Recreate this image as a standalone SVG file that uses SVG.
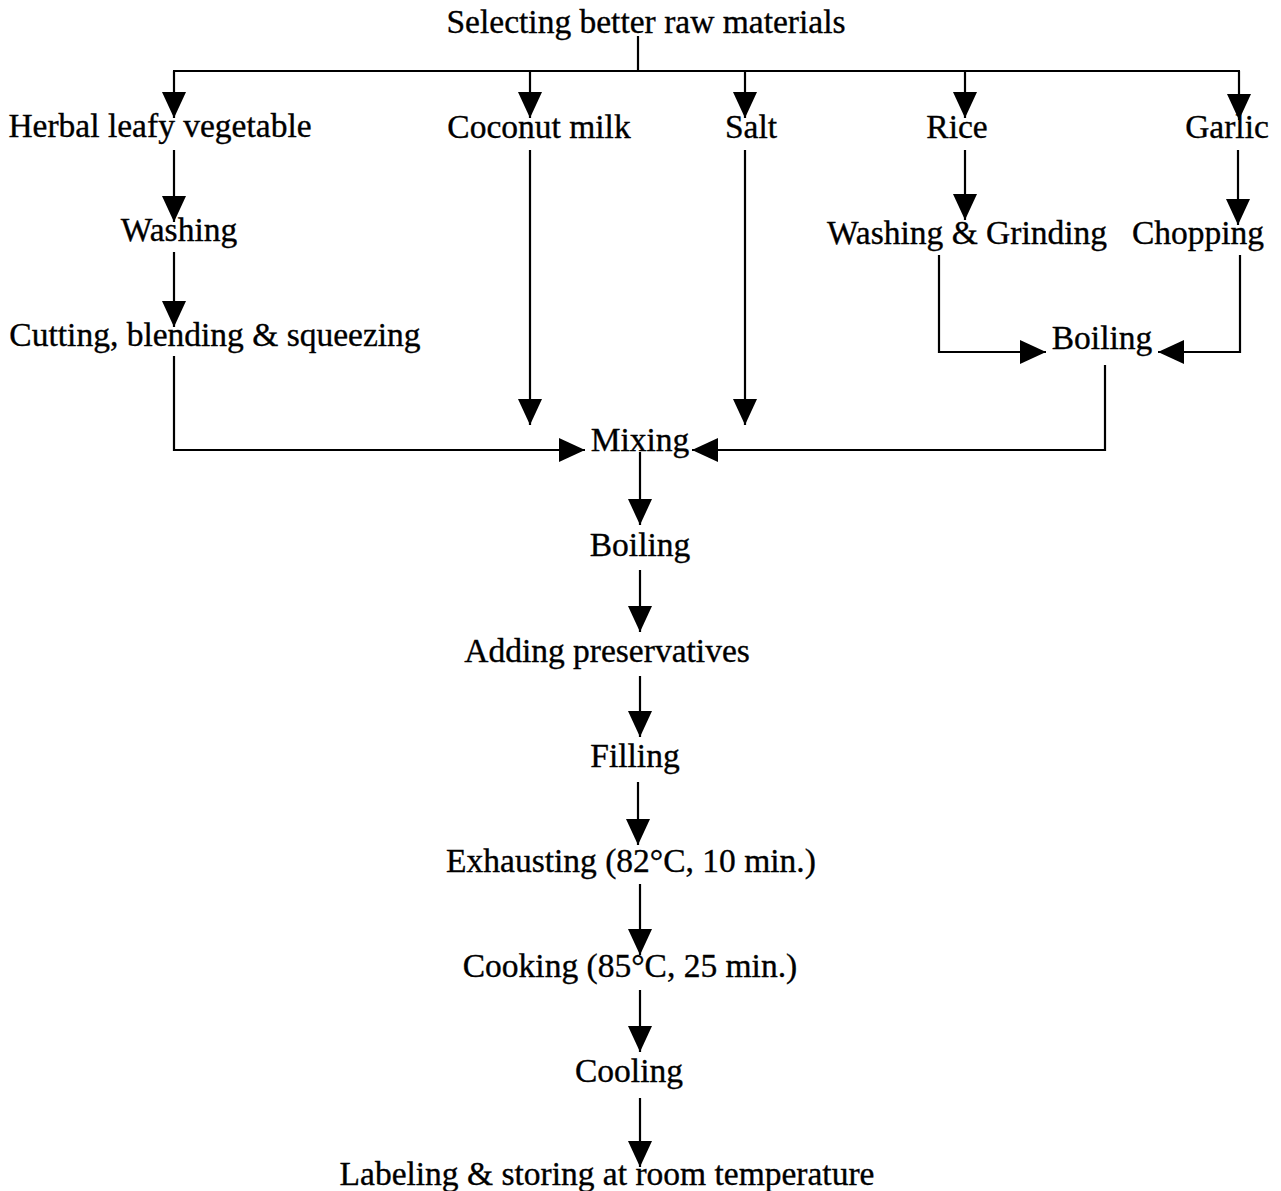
<svg xmlns="http://www.w3.org/2000/svg" width="1281" height="1191" viewBox="0 0 1281 1191">
<defs>
<style>
text{font-family:"Liberation Serif","Times New Roman",serif;font-size:33.5px;fill:#000;stroke:#000;stroke-width:0.35;text-anchor:middle}
.c line,.c polyline{stroke:#000;stroke-width:2.2;fill:none}
.a{marker-end:url(#ah)}
</style>
<marker id="ah" viewBox="0 0 26 24" refX="26" refY="12" markerWidth="26" markerHeight="24" markerUnits="userSpaceOnUse" orient="auto">
<path d="M0,0 L26,12 L0,24 z" fill="#000"/>
</marker>
</defs>
<rect width="1281" height="1191" fill="#fff"/>
<g class="c" id="connectors">
<line x1="638" y1="36" x2="638" y2="71"/>
<line x1="173" y1="71" x2="1240" y2="71"/>
<line class="a" x1="174" y1="71" x2="174" y2="118"/>
<line class="a" x1="530" y1="71" x2="530" y2="118"/>
<line class="a" x1="745" y1="71" x2="745" y2="118"/>
<line class="a" x1="965" y1="71" x2="965" y2="118"/>
<line class="a" x1="1239" y1="71" x2="1239" y2="120"/>
<line class="a" x1="174" y1="150" x2="174" y2="222"/>
<line class="a" x1="174" y1="252" x2="174" y2="327"/>
<polyline class="a" points="174,356 174,450 585,450"/>
<line class="a" x1="530" y1="150" x2="530" y2="425"/>
<line class="a" x1="745" y1="150" x2="745" y2="425"/>
<line class="a" x1="965" y1="150" x2="965" y2="220"/>
<line class="a" x1="1238" y1="150" x2="1238" y2="225"/>
<polyline class="a" points="939,255 939,352 1046,352"/>
<polyline class="a" points="1240,255 1240,352 1158,352"/>
<polyline class="a" points="1105,365 1105,450 692,450"/>
<line class="a" x1="640" y1="452" x2="640" y2="525"/>
<line class="a" x1="640" y1="570" x2="640" y2="632"/>
<line class="a" x1="640" y1="676" x2="640" y2="737"/>
<line class="a" x1="638" y1="782" x2="638" y2="845"/>
<line class="a" x1="640" y1="884" x2="640" y2="955"/>
<line class="a" x1="640" y1="990" x2="640" y2="1052"/>
<line class="a" x1="640" y1="1098" x2="640" y2="1167"/>
</g>
<g id="n-title"><text x="646" y="33">Selecting better raw materials</text></g>
<g id="n-herbal"><text x="160" y="137">Herbal leafy vegetable</text></g>
<g id="n-coconut"><text x="539" y="138">Coconut milk</text></g>
<g id="n-salt"><text x="751" y="138">Salt</text></g>
<g id="n-rice"><text x="957" y="138">Rice</text></g>
<g id="n-garlic"><text x="1227" y="138">Garlic</text></g>
<g id="n-washing"><text x="179" y="241">Washing</text></g>
<g id="n-washgrind"><text x="967" y="244">Washing &amp; Grinding</text></g>
<g id="n-chopping"><text x="1198" y="244">Chopping</text></g>
<g id="n-cutting"><text x="215" y="346">Cutting, blending &amp; squeezing</text></g>
<g id="n-boiling1"><text x="1102" y="349">Boiling</text></g>
<g id="n-mixing"><text x="640" y="451">Mixing</text></g>
<g id="n-boiling2"><text x="640" y="556">Boiling</text></g>
<g id="n-adding"><text x="607" y="662">Adding preservatives</text></g>
<g id="n-filling"><text x="635" y="767">Filling</text></g>
<g id="n-exhaust"><text x="631" y="872">Exhausting (82°C, 10 min.)</text></g>
<g id="n-cooking"><text x="630" y="977">Cooking (85°C, 25 min.)</text></g>
<g id="n-cooling"><text x="629" y="1082">Cooling</text></g>
<g id="n-label"><text x="607" y="1185">Labeling &amp; storing at room temperature</text></g>
</svg>
